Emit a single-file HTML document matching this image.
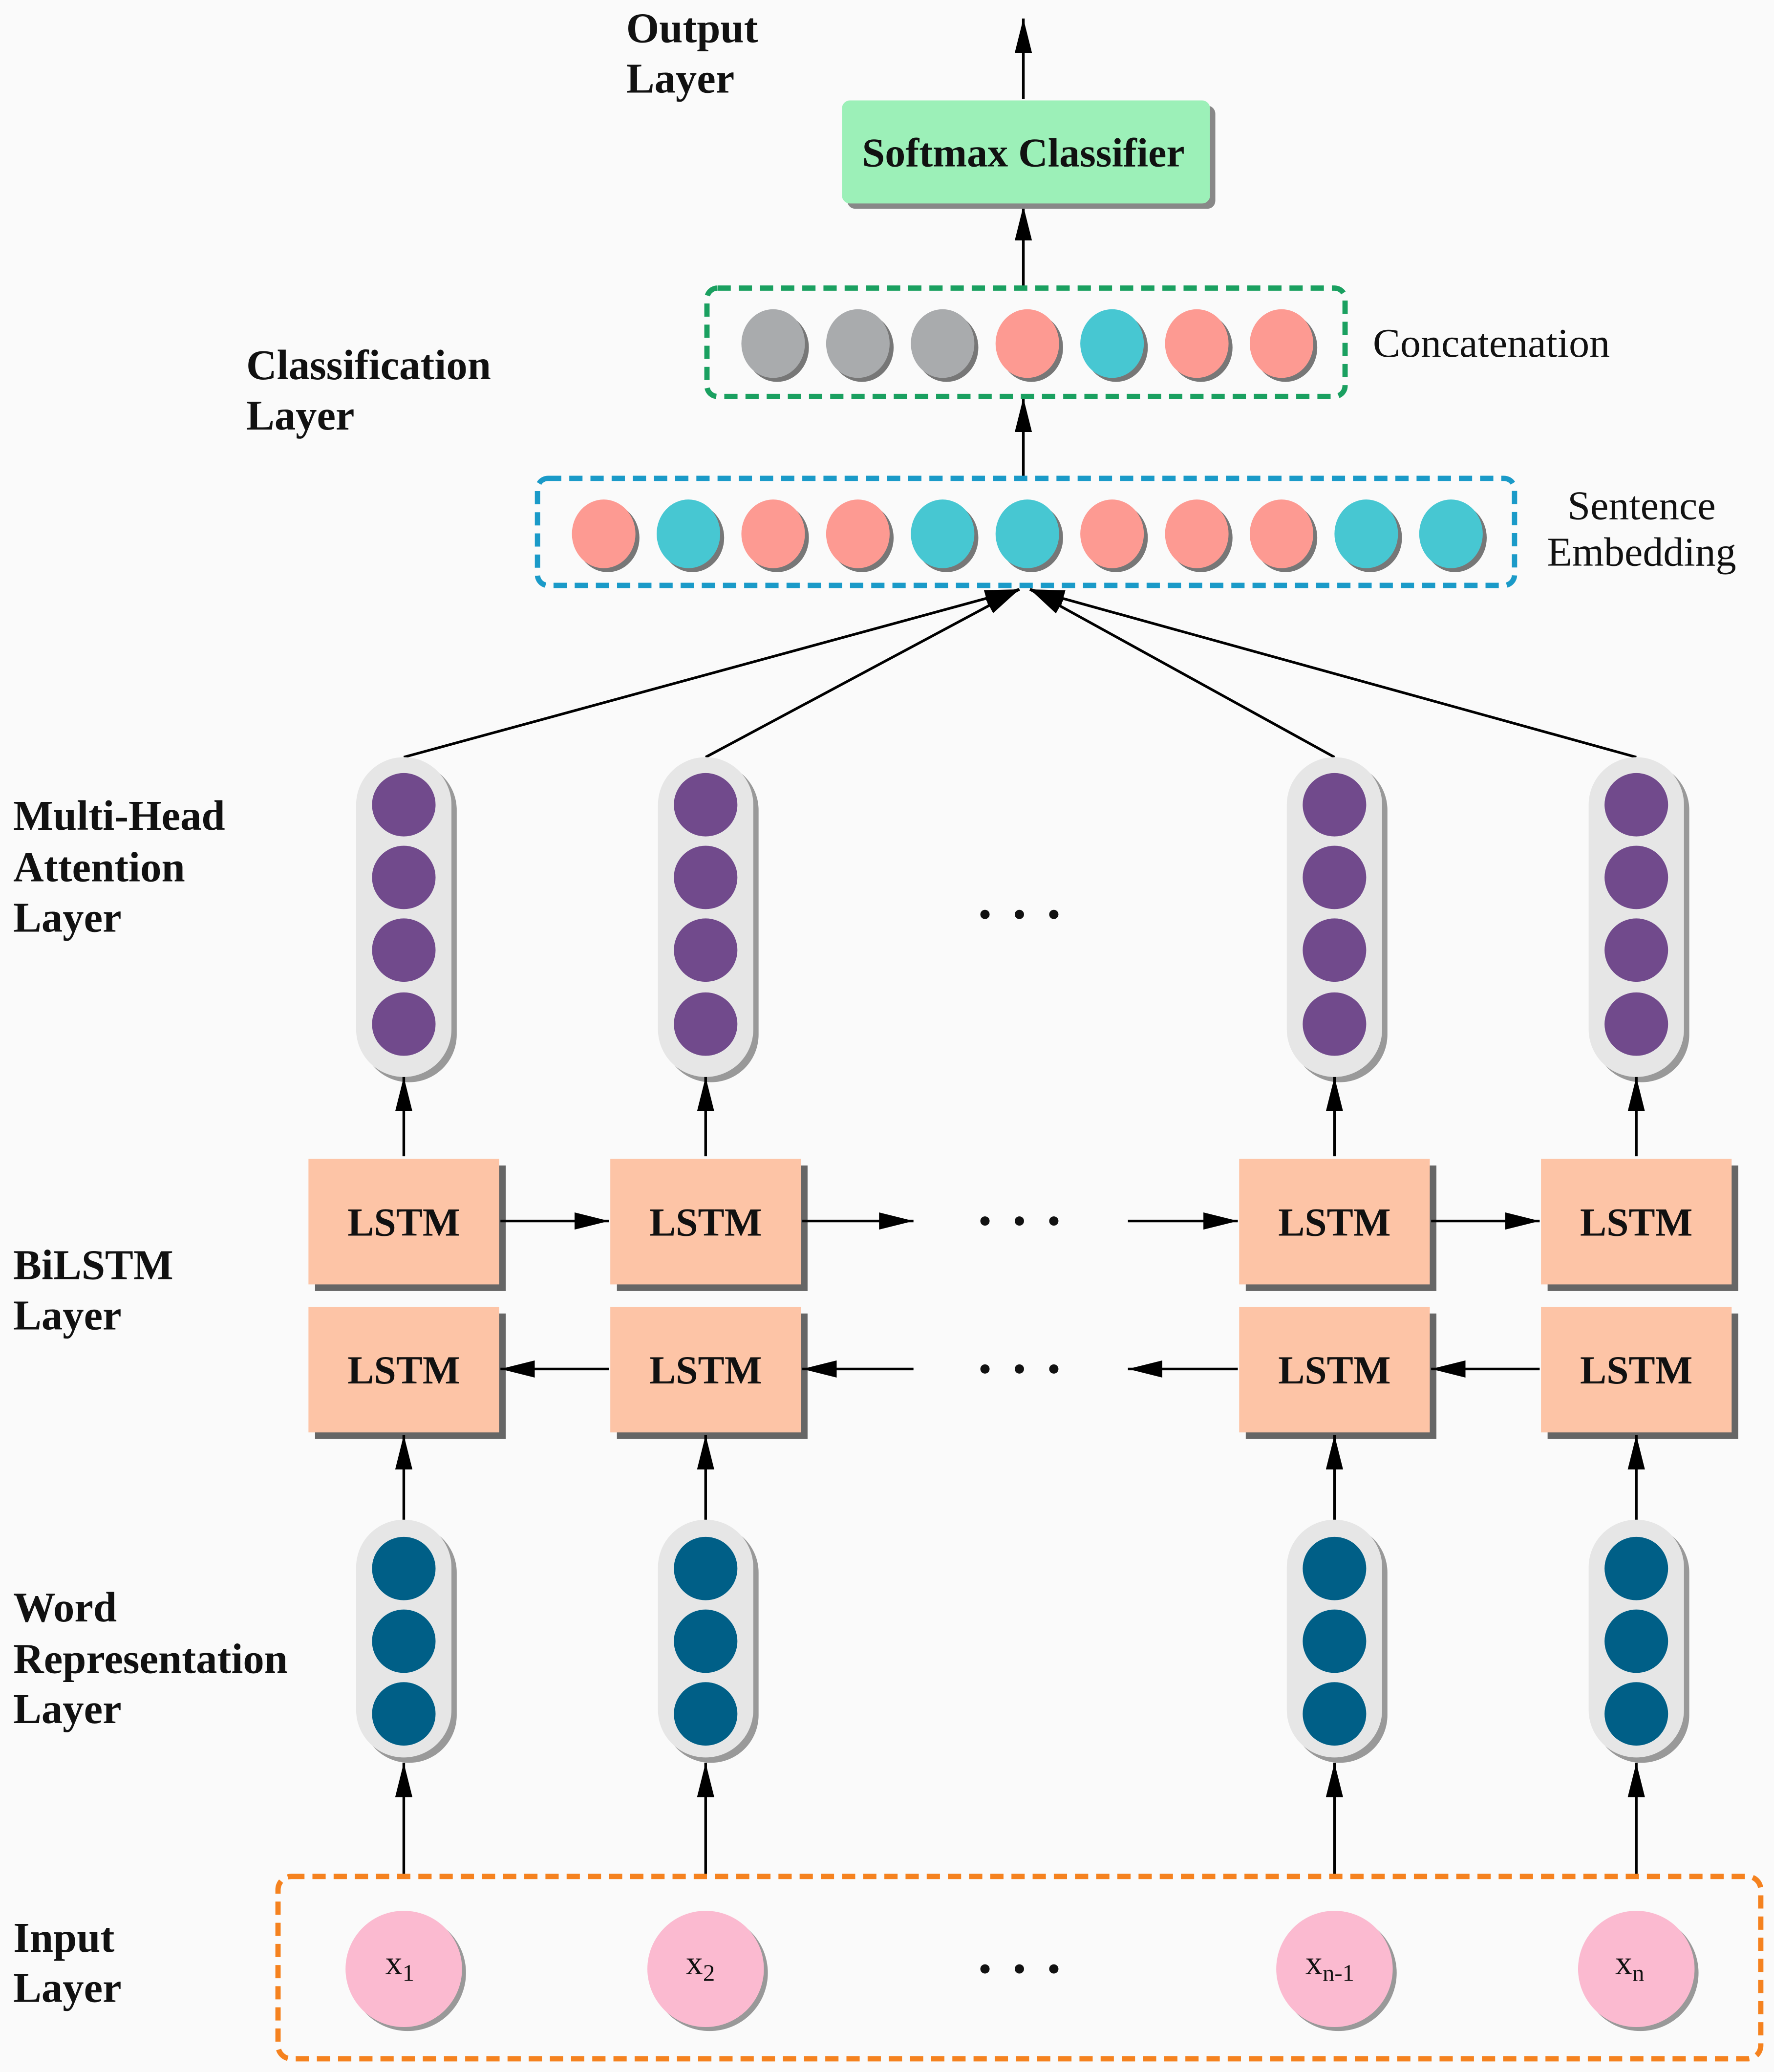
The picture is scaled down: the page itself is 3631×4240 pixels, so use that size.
<!DOCTYPE html>
<html><head><meta charset="utf-8"><style>html,body{margin:0;padding:0;background:#fafafa}svg{display:block}</style></head>
<body>
<svg width="3631" height="4240" viewBox="0 0 1340 1568" preserveAspectRatio="none" xmlns="http://www.w3.org/2000/svg">
<defs>
<marker id="ah2" viewBox="0 0 20 10" refX="20" refY="5" markerWidth="26" markerHeight="13" markerUnits="userSpaceOnUse" orient="auto" preserveAspectRatio="none"><path d="M0,0 L20,5 L0,10 z" fill="#000"/></marker>
</defs>
<rect width="1340" height="1568" fill="#fafafa"/>
<g font-family="Liberation Serif, serif" fill="#111">
<g font-weight="bold" font-size="32">
<text x="473" y="32">Output</text><text x="473" y="70">Layer</text>
<text x="186" y="287">Classification</text><text x="186" y="325">Layer</text>
<text x="10" y="628">Multi-Head</text><text x="10" y="667">Attention</text><text x="10" y="705">Layer</text>
<text x="10" y="968">BiLSTM</text><text x="10" y="1006">Layer</text>
<text x="10" y="1227">Word</text><text x="10" y="1266">Representation</text><text x="10" y="1304">Layer</text>
<text x="10" y="1477">Input</text><text x="10" y="1515">Layer</text>
</g>
<text x="1037" y="270" font-size="31">Concatenation</text>
<text x="1240" y="393" font-size="31" text-anchor="middle">Sentence</text>
<text x="1240" y="428" font-size="31" text-anchor="middle">Embedding</text>
</g>
<g stroke="#000" stroke-width="2" fill="none">
<line x1="773" y1="75" x2="773" y2="14" marker-end="url(#ah2)"/>
<line x1="773" y1="218" x2="773" y2="156" marker-end="url(#ah2)"/>
<line x1="773" y1="360" x2="773" y2="301" marker-end="url(#ah2)"/>
</g>
<rect x="640" y="80" width="278" height="78" rx="6" fill="#888"/>
<rect x="636" y="76" width="278" height="78" rx="6" fill="#9cf0b8"/>
<text x="773" y="126" text-anchor="middle" font-family="Liberation Serif, serif" font-weight="bold" font-size="31" fill="#111">Softmax Classifier</text>
<rect x="534" y="218" width="482" height="82" rx="8" fill="none" stroke="#1aa060" stroke-width="4" stroke-dasharray="10,6"/>
<g>
<ellipse cx="587" cy="263" rx="24" ry="26" fill="#777"/><ellipse cx="584" cy="260" rx="24" ry="26" fill="#a9abad"/>
<ellipse cx="651" cy="263" rx="24" ry="26" fill="#777"/><ellipse cx="648" cy="260" rx="24" ry="26" fill="#a9abad"/>
<ellipse cx="715" cy="263" rx="24" ry="26" fill="#777"/><ellipse cx="712" cy="260" rx="24" ry="26" fill="#a9abad"/>
<ellipse cx="779" cy="263" rx="24" ry="26" fill="#777"/><ellipse cx="776" cy="260" rx="24" ry="26" fill="#fd9a92"/>
<ellipse cx="843" cy="263" rx="24" ry="26" fill="#777"/><ellipse cx="840" cy="260" rx="24" ry="26" fill="#47c7d2"/>
<ellipse cx="907" cy="263" rx="24" ry="26" fill="#777"/><ellipse cx="904" cy="260" rx="24" ry="26" fill="#fd9a92"/>
<ellipse cx="971" cy="263" rx="24" ry="26" fill="#777"/><ellipse cx="968" cy="260" rx="24" ry="26" fill="#fd9a92"/>
</g>
<rect x="406" y="362" width="738" height="81" rx="8" fill="none" stroke="#1a9ac8" stroke-width="4" stroke-dasharray="10,6"/>
<g>
<ellipse cx="459" cy="407" rx="24" ry="26" fill="#777"/><ellipse cx="456" cy="404" rx="24" ry="26" fill="#fd9a92"/>
<ellipse cx="523" cy="407" rx="24" ry="26" fill="#777"/><ellipse cx="520" cy="404" rx="24" ry="26" fill="#47c7d2"/>
<ellipse cx="587" cy="407" rx="24" ry="26" fill="#777"/><ellipse cx="584" cy="404" rx="24" ry="26" fill="#fd9a92"/>
<ellipse cx="651" cy="407" rx="24" ry="26" fill="#777"/><ellipse cx="648" cy="404" rx="24" ry="26" fill="#fd9a92"/>
<ellipse cx="715" cy="407" rx="24" ry="26" fill="#777"/><ellipse cx="712" cy="404" rx="24" ry="26" fill="#47c7d2"/>
<ellipse cx="779" cy="407" rx="24" ry="26" fill="#777"/><ellipse cx="776" cy="404" rx="24" ry="26" fill="#47c7d2"/>
<ellipse cx="843" cy="407" rx="24" ry="26" fill="#777"/><ellipse cx="840" cy="404" rx="24" ry="26" fill="#fd9a92"/>
<ellipse cx="907" cy="407" rx="24" ry="26" fill="#777"/><ellipse cx="904" cy="404" rx="24" ry="26" fill="#fd9a92"/>
<ellipse cx="971" cy="407" rx="24" ry="26" fill="#777"/><ellipse cx="968" cy="404" rx="24" ry="26" fill="#fd9a92"/>
<ellipse cx="1035" cy="407" rx="24" ry="26" fill="#777"/><ellipse cx="1032" cy="404" rx="24" ry="26" fill="#47c7d2"/>
<ellipse cx="1099" cy="407" rx="24" ry="26" fill="#777"/><ellipse cx="1096" cy="404" rx="24" ry="26" fill="#47c7d2"/>
</g>
<g stroke="#000" stroke-width="2" fill="none">
<line x1="305" y1="573" x2="770" y2="446" marker-end="url(#ah2)"/>
<line x1="533" y1="573" x2="770" y2="446" marker-end="url(#ah2)"/>
<line x1="1008" y1="573" x2="778" y2="446" marker-end="url(#ah2)"/>
<line x1="1236" y1="573" x2="778" y2="446" marker-end="url(#ah2)"/>
</g>
<g>
<rect x="273" y="577" width="72" height="242" rx="36" fill="#999"/><rect x="269" y="573" width="72" height="242" rx="36" fill="#e6e6e6"/>
<rect x="501" y="577" width="72" height="242" rx="36" fill="#999"/><rect x="497" y="573" width="72" height="242" rx="36" fill="#e6e6e6"/>
<rect x="976" y="577" width="72" height="242" rx="36" fill="#999"/><rect x="972" y="573" width="72" height="242" rx="36" fill="#e6e6e6"/>
<rect x="1204" y="577" width="72" height="242" rx="36" fill="#999"/><rect x="1200" y="573" width="72" height="242" rx="36" fill="#e6e6e6"/>
</g>
<g fill="#714a8c">
<circle cx="305" cy="609" r="24"/><circle cx="305" cy="664" r="24"/><circle cx="305" cy="719" r="24"/><circle cx="305" cy="775" r="24"/>
<circle cx="533" cy="609" r="24"/><circle cx="533" cy="664" r="24"/><circle cx="533" cy="719" r="24"/><circle cx="533" cy="775" r="24"/>
<circle cx="1008" cy="609" r="24"/><circle cx="1008" cy="664" r="24"/><circle cx="1008" cy="719" r="24"/><circle cx="1008" cy="775" r="24"/>
<circle cx="1236" cy="609" r="24"/><circle cx="1236" cy="664" r="24"/><circle cx="1236" cy="719" r="24"/><circle cx="1236" cy="775" r="24"/>
</g>
<g>
<rect x="238" y="882" width="144" height="95" fill="#666"/><rect x="233" y="877" width="144" height="95" fill="#fdc4a6"/>
<rect x="466" y="882" width="144" height="95" fill="#666"/><rect x="461" y="877" width="144" height="95" fill="#fdc4a6"/>
<rect x="941" y="882" width="144" height="95" fill="#666"/><rect x="936" y="877" width="144" height="95" fill="#fdc4a6"/>
<rect x="1169" y="882" width="144" height="95" fill="#666"/><rect x="1164" y="877" width="144" height="95" fill="#fdc4a6"/>
<rect x="238" y="994" width="144" height="95" fill="#666"/><rect x="233" y="989" width="144" height="95" fill="#fdc4a6"/>
<rect x="466" y="994" width="144" height="95" fill="#666"/><rect x="461" y="989" width="144" height="95" fill="#fdc4a6"/>
<rect x="941" y="994" width="144" height="95" fill="#666"/><rect x="936" y="989" width="144" height="95" fill="#fdc4a6"/>
<rect x="1169" y="994" width="144" height="95" fill="#666"/><rect x="1164" y="989" width="144" height="95" fill="#fdc4a6"/>
</g>
<g font-family="Liberation Serif, serif" font-weight="bold" font-size="30" fill="#111" text-anchor="middle">
<text x="305" y="935">LSTM</text><text x="533" y="935">LSTM</text><text x="1008" y="935">LSTM</text><text x="1236" y="935">LSTM</text>
<text x="305" y="1047">LSTM</text><text x="533" y="1047">LSTM</text><text x="1008" y="1047">LSTM</text><text x="1236" y="1047">LSTM</text>
</g>
<g>
<rect x="273" y="1154" width="72" height="180" rx="36" fill="#999"/><rect x="269" y="1150" width="72" height="180" rx="36" fill="#e6e6e6"/>
<rect x="501" y="1154" width="72" height="180" rx="36" fill="#999"/><rect x="497" y="1150" width="72" height="180" rx="36" fill="#e6e6e6"/>
<rect x="976" y="1154" width="72" height="180" rx="36" fill="#999"/><rect x="972" y="1150" width="72" height="180" rx="36" fill="#e6e6e6"/>
<rect x="1204" y="1154" width="72" height="180" rx="36" fill="#999"/><rect x="1200" y="1150" width="72" height="180" rx="36" fill="#e6e6e6"/>
</g>
<g fill="#005f87">
<circle cx="305" cy="1187" r="24"/><circle cx="305" cy="1242" r="24"/><circle cx="305" cy="1297" r="24"/>
<circle cx="533" cy="1187" r="24"/><circle cx="533" cy="1242" r="24"/><circle cx="533" cy="1297" r="24"/>
<circle cx="1008" cy="1187" r="24"/><circle cx="1008" cy="1242" r="24"/><circle cx="1008" cy="1297" r="24"/>
<circle cx="1236" cy="1187" r="24"/><circle cx="1236" cy="1242" r="24"/><circle cx="1236" cy="1297" r="24"/>
</g>
<g stroke="#000" stroke-width="2" fill="none">
<line x1="305" y1="875" x2="305" y2="815" marker-end="url(#ah2)"/><line x1="533" y1="875" x2="533" y2="815" marker-end="url(#ah2)"/>
<line x1="1008" y1="875" x2="1008" y2="815" marker-end="url(#ah2)"/><line x1="1236" y1="875" x2="1236" y2="815" marker-end="url(#ah2)"/>
<line x1="305" y1="1150" x2="305" y2="1086" marker-end="url(#ah2)"/><line x1="533" y1="1150" x2="533" y2="1086" marker-end="url(#ah2)"/>
<line x1="1008" y1="1150" x2="1008" y2="1086" marker-end="url(#ah2)"/><line x1="1236" y1="1150" x2="1236" y2="1086" marker-end="url(#ah2)"/>
<line x1="305" y1="1420" x2="305" y2="1334" marker-end="url(#ah2)"/><line x1="533" y1="1420" x2="533" y2="1334" marker-end="url(#ah2)"/>
<line x1="1008" y1="1420" x2="1008" y2="1334" marker-end="url(#ah2)"/><line x1="1236" y1="1420" x2="1236" y2="1334" marker-end="url(#ah2)"/>
<line x1="378" y1="924" x2="460" y2="924" marker-end="url(#ah2)"/>
<line x1="606" y1="924" x2="690" y2="924" marker-end="url(#ah2)"/>
<line x1="852" y1="924" x2="935" y2="924" marker-end="url(#ah2)"/>
<line x1="1081" y1="924" x2="1163" y2="924" marker-end="url(#ah2)"/>
<line x1="460" y1="1036" x2="378" y2="1036" marker-end="url(#ah2)"/>
<line x1="690" y1="1036" x2="606" y2="1036" marker-end="url(#ah2)"/>
<line x1="935" y1="1036" x2="852" y2="1036" marker-end="url(#ah2)"/>
<line x1="1163" y1="1036" x2="1081" y2="1036" marker-end="url(#ah2)"/>
</g>
<g fill="#111">
<circle cx="744" cy="692" r="3.5"/><circle cx="770" cy="692" r="3.5"/><circle cx="796" cy="692" r="3.5"/>
<circle cx="744" cy="924" r="3.5"/><circle cx="770" cy="924" r="3.5"/><circle cx="796" cy="924" r="3.5"/>
<circle cx="744" cy="1036" r="3.5"/><circle cx="770" cy="1036" r="3.5"/><circle cx="796" cy="1036" r="3.5"/>
<circle cx="744" cy="1490" r="3.5"/><circle cx="770" cy="1490" r="3.5"/><circle cx="796" cy="1490" r="3.5"/>
</g>
<rect x="210" y="1420" width="1120" height="138" rx="10" fill="none" stroke="#f5821f" stroke-width="4" stroke-dasharray="10,6"/>
<g>
<circle cx="308" cy="1493" r="44" fill="#999"/><circle cx="305" cy="1490" r="44" fill="#fbbad0"/>
<circle cx="536" cy="1493" r="44" fill="#999"/><circle cx="533" cy="1490" r="44" fill="#fbbad0"/>
<circle cx="1011" cy="1493" r="44" fill="#999"/><circle cx="1008" cy="1490" r="44" fill="#fbbad0"/>
<circle cx="1239" cy="1493" r="44" fill="#999"/><circle cx="1236" cy="1490" r="44" fill="#fbbad0"/>
</g>
<g font-family="Liberation Serif, serif" font-size="26" fill="#111">
<text x="291" y="1494">x<tspan font-size="18" dy="5">1</tspan></text>
<text x="518" y="1494">x<tspan font-size="18" dy="5">2</tspan></text>
<text x="986" y="1494">x<tspan font-size="18" dy="5">n-1</tspan></text>
<text x="1220" y="1494">x<tspan font-size="18" dy="5">n</tspan></text>
</g>
</svg>
</body></html>
